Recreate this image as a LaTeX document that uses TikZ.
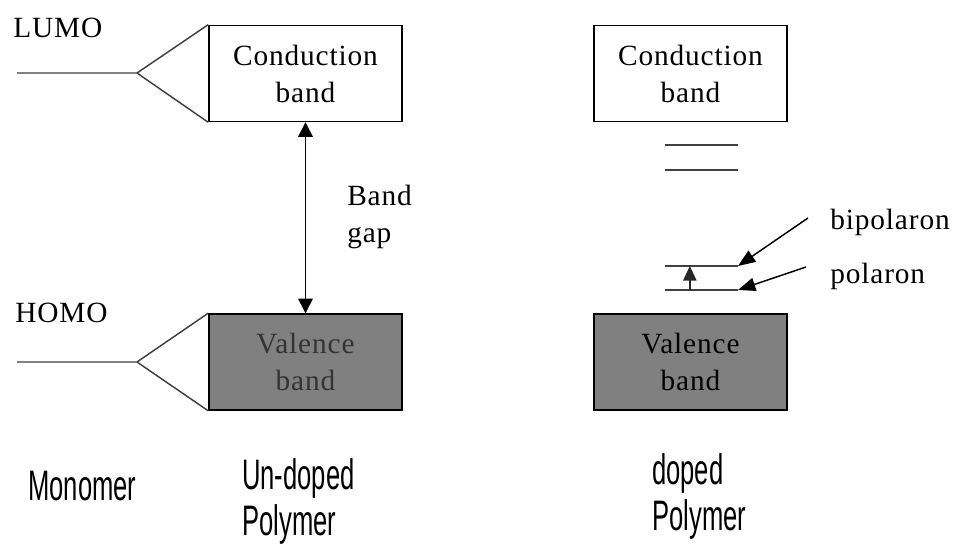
\documentclass[tikz,border=0pt]{standalone}
\usepackage{fontspec}
\usepackage{graphicx}
\setmainfont{Liberation Serif}[LetterSpace=3]
\setsansfont{Liberation Sans}
\usetikzlibrary{arrows.meta, positioning, calc}
\newcommand{\thinsans}[1]{\scalebox{0.6}[1]{#1}}

\begin{document}
\begin{tikzpicture}[
		x=0.75pt, y=-0.75pt,
		txt/.style = {font=\fontsize{22}{27.75}\selectfont, inner sep=0pt},
		caption/.style = {font=\fontsize{32}{34.5}\sffamily, inner sep=0pt, align=left},
		band/.style = {rectangle, draw, line width=1.1pt, minimum width=145pt, minimum height=72pt, align=center, txt},
		cband/.style = {band, fill=white},
		vband/.style = {band, fill=gray},
		link/.style = {line width=1.1pt, black!75},
		lvl/.style = {line width=1.1pt, black!75},
		gaparr/.style = {{Triangle[width=11pt,length=11pt]}-{Triangle[width=11pt,length=11pt]}, line width=1.1pt},
		uparr/.style = {-{Triangle[width=10pt,length=11pt]}, line width=1.1pt, black!85},
		ptr/.style = {-{Triangle[width=10pt,length=13pt]}, line width=1.1pt},
	]
	\useasboundingbox (0,0) rectangle (953,545);

	% monomer levels
	\node[txt, anchor=base west] (lumo) at (13,38) {LUMO};
	\node[txt, anchor=base west] (homo) at (15,322) {HOMO};
	\coordinate (lumoEnd) at (17,73);
	\coordinate (lumoTip) at (137,73);
	\coordinate (homoEnd) at (17,362);
	\coordinate (homoTip) at (137,362);

	% un-doped polymer
	\node[cband] (cbL) at (305.5,73.5) {Conduction\\band};
	\node[vband, text=black!80] (vbL) at (305.5,362) {Valence\\band};
	\draw[link] (lumoEnd) -- (lumoTip) -- (cbL.north west);
	\draw[link] (lumoTip) -- (cbL.south west);
	\draw[link] (homoEnd) -- (homoTip) -- (vbL.north west);
	\draw[link] (homoTip) -- (vbL.south west);
	\draw[gaparr] (cbL.south) -- (vbL.north);
	\node[txt, anchor=base west, align=left] (gap) at (347,243) {Band\\gap};

	% doped polymer
	\node[cband] (cbR) at (690.5,73.5) {Conduction\\band};
	\node[vband] (vbR) at (690.5,362) {Valence\\band};
	\coordinate (u1L) at (665,145);  \coordinate (u1R) at (738,145);
	\coordinate (u2L) at (665,170);  \coordinate (u2R) at (738,170);
	\coordinate (bipL) at (665,266); \coordinate (bipR) at (738,266);
	\coordinate (polL) at (665,290); \coordinate (polR) at (738,290);
	\foreach \n in {u1,u2,bip,pol}
		\draw[lvl] (\n L) -- (\n R);
	\draw[uparr] ($(polL)!.34!(polR)$) -- ($(bipL)!.34!(bipR)$);

	\node[txt, anchor=base west] (bipTxt) at (830,230) {bipolaron};
	\node[txt, anchor=base west] (polTxt) at (830,284) {polaron};
	\coordinate (bipTail) at (808,218);
	\coordinate (polTail) at (806,267);
	\draw[ptr] (bipTail) -- (bipR);
	\draw[ptr] (polTail) -- (polR);

	% captions
	\node[caption, anchor=base west] (mono) at (28,500) {\thinsans{Monomer}};
	\node[caption, anchor=base west] (undop) at (242,535) {\thinsans{Un-doped}\\\thinsans{Polymer}};
	\node[caption, anchor=base west] (dop) at (652,530) {\thinsans{doped}\\\thinsans{Polymer}};
\end{tikzpicture}
\end{document}
